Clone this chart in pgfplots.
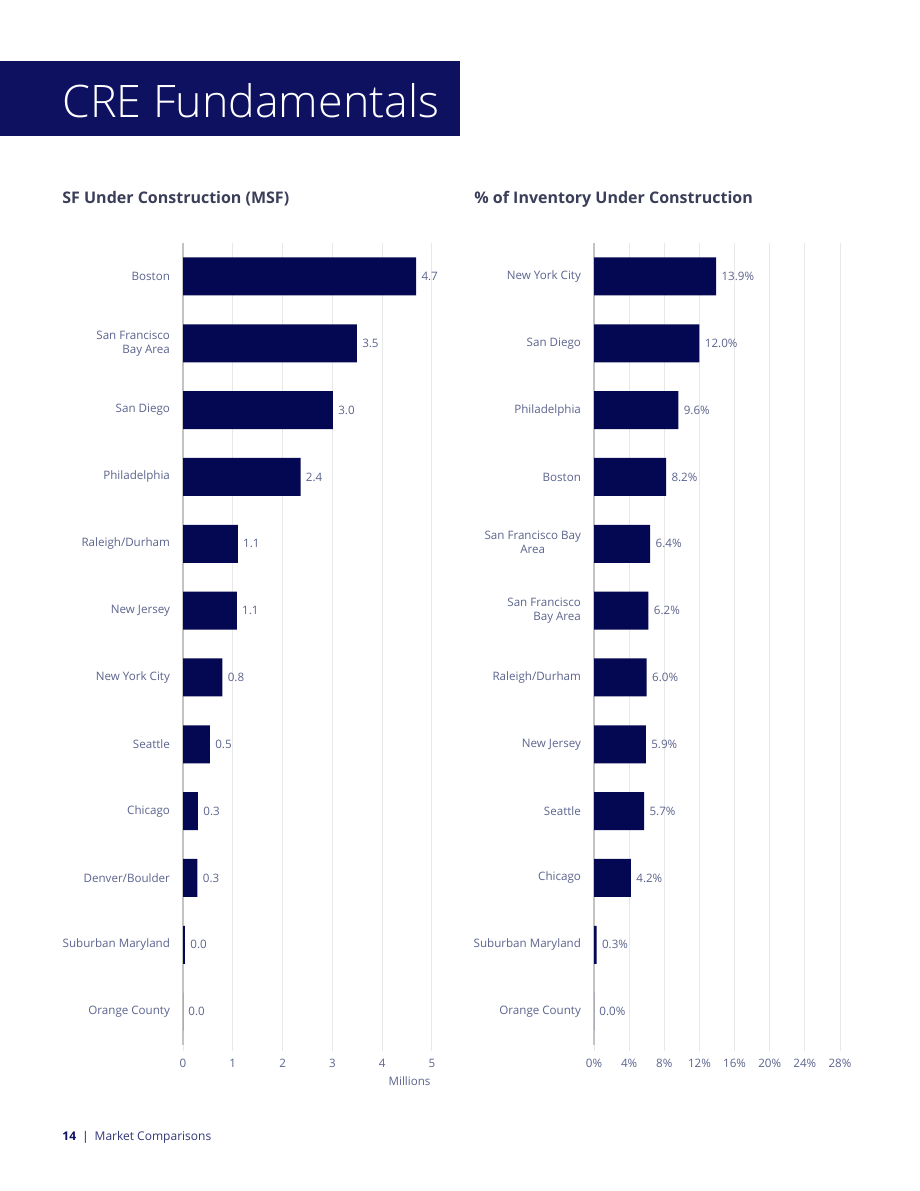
\documentclass[border=0pt]{standalone}
\usepackage{fontspec}
\setmainfont{Open Sans}
\newfontfamily\lightfont{Open Sans}[UprightFont=* Light]
\usepackage{pgfplots}
\pgfplotsset{compat=1.18}
\definecolor{navy}{RGB}{4,8,82}
\definecolor{hdr}{RGB}{14,16,96}
\definecolor{lbl}{RGB}{92,100,142}
\definecolor{ttl}{RGB}{58,62,88}
\definecolor{foot}{RGB}{50,56,120}
\definecolor{gridc}{RGB}{232,232,232}
\definecolor{axc}{RGB}{195,195,195}
\pgfkeys{/pgf/number format/assume math mode=true}
\newcommand\lblfont{\fontsize{5.8}{7}\selectfont}
\pgfplotsset{barax/.style={
  scale only axis, height=401pt, xmin=0,
  ymin=-0.5, ymax=11.5, ytick={0,...,11},
  xbar, bar width=19pt, clip=false,
  axis x line*=bottom, axis y line*=left,
  x axis line style={draw=none},
  y axis line style={draw=axc, line width=0.6pt, -},
  ytick style={draw=none},
  xtick style={draw=gridc, line width=0.5pt},
  tick align=outside, major tick length=3pt,
  xmajorgrids, grid style={draw=gridc, line width=0.5pt},
  yticklabel style={font=\lblfont, text=lbl, align=right},
  xticklabel style={font=\lblfont, text=lbl, yshift=-0.5pt},
  every node near coord/.append style={font=\lblfont, text=lbl, xshift=-0.8pt},
}}
\begin{document}
\begin{tikzpicture}
\path[fill=white] (0pt,0pt) rectangle (460pt,-595.5pt);
% header
\fill[hdr] (0pt,-30.5pt) rectangle (230pt,-68pt);
\node[anchor=base west, inner sep=0pt, text=white, font=\lightfont\fontsize{22.4}{25}\selectfont] at (31pt,-58.5pt) {CRE Fundamentals};
% section titles
\node[anchor=base west, inner sep=0pt, text=ttl, font=\fontsize{8}{10}\selectfont\bfseries] at (31pt,-101.5pt) {SF Under Construction (MSF)};
\node[anchor=base west, inner sep=0pt, text=ttl, font=\fontsize{8}{10}\selectfont\bfseries] at (237pt,-101.5pt) {\% of Inventory Under Construction};
% footer
\node[anchor=base west, inner sep=0pt, text=foot, font=\fontsize{6}{7}\selectfont] at (31pt,-570pt) {\textcolor{hdr}{\textbf{14}}\hspace{0.5em}\textcolor{hdr}{|}\hspace{0.5em}Market Comparisons};

\begin{axis}[barax, at={(91.5pt,-522.5pt)}, anchor=south west,
  width=124.5pt, xmax=5, xtick={0,1,2,3,4,5},
  yticklabels={Orange County, Suburban Maryland, Denver/Boulder, Chicago, Seattle, New York City, New Jersey, Raleigh/Durham, Philadelphia, San Diego, {San Francisco\\Bay Area}, Boston},
  xlabel={Millions}, xlabel style={at={(ticklabel cs:0.91)}, anchor=north, font=\lblfont, text=lbl, yshift=2.5pt},
  nodes near coords={\pgfmathprintnumber[fixed,fixed zerofill,precision=1]{\pgfplotspointmeta}},
]
\addplot[fill=navy, draw=none] coordinates {
(0.0,0) (0.04,1) (0.29,2) (0.30,3) (0.54,4) (0.79,5) (1.08,6) (1.10,7) (2.36,8) (3.01,9) (3.49,10) (4.68,11)};
\end{axis}

\begin{axis}[barax, at={(297pt,-522.5pt)}, anchor=south west,
  width=123pt, xmax=28, xtick={0,4,...,28},
  xticklabel={\pgfmathprintnumber{\tick}\%},
  yticklabels={Orange County, Suburban Maryland, Chicago, Seattle, New Jersey, Raleigh/Durham, {San Francisco\\Bay Area}, {\begin{tabular}{@{}c@{}}San Francisco Bay\\Area\end{tabular}}, Boston, Philadelphia, San Diego, New York City},
  nodes near coords={\pgfmathprintnumber[fixed,fixed zerofill,precision=1]{\pgfplotspointmeta}\%},
]
\addplot[fill=navy, draw=none] coordinates {
(0.0,0) (0.3,1) (4.2,2) (5.7,3) (5.9,4) (6.0,5) (6.2,6) (6.4,7) (8.2,8) (9.6,9) (12.0,10) (13.9,11)};
\end{axis}
\end{tikzpicture}
\end{document}
